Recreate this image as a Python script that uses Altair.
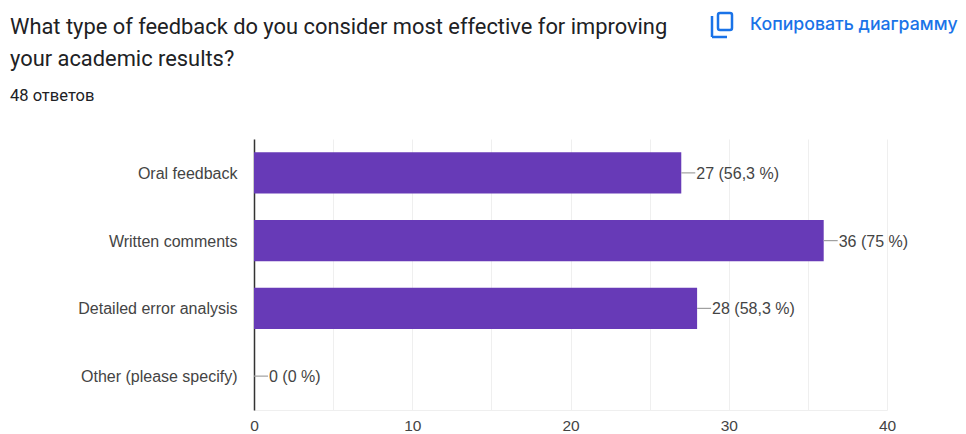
import altair as alt
import pandas as pd

categories = ["Oral feedback", "Written comments", "Detailed error analysis", "Other (please specify)"]
values = [27, 36, 28, 0]
labels = ["27 (56,3 %)", "36 (75 %)", "28 (58,3 %)", "0 (0 %)"]
ticks = [0, 5, 10, 15, 20, 25, 30, 35, 40]
title_lines = ["What type of feedback do you consider most effective for improving", "your academic results?"]
subtitle = "48 ответов"
button = "Копировать диаграмму"

df = pd.DataFrame({"cat": categories, "val": values, "lab": labels})
W, H = 633, 271
LEFT, TOP = 246, 131

xs = alt.Scale(domain=[0, 40], nice=False)
ys = alt.Scale(domain=categories, paddingInner=0.39, paddingOuter=0.195)

base = alt.Chart(df)
bars = base.mark_bar(color="#673ab7", opacity=1).encode(
    x=alt.X("val:Q", scale=xs, axis=alt.Axis(
        values=ticks, title=None, grid=True, gridColor="#efefef", gridWidth=1,
        domainColor="#efefef", ticks=False, labelFont="Liberation Sans", labelFontSize=15.5,
        labelColor="#444444", labelPadding=8, labelFlush=False,
        labelExpr="datum.value % 10 == 0 ? datum.label : ''")),
    y=alt.Y("cat:N", scale=ys, sort=categories, axis=alt.Axis(
        title=None, ticks=False, grid=False, domainColor="#333333", domainWidth=1.5,
        labelFont="Liberation Sans", labelFontSize=16, labelColor="#444444",
        labelPadding=17, labelLimit=240, labelOffset=1)),
)
leaders = base.mark_rule(color="#a0a0a0", strokeWidth=1.2, x2Offset=14).encode(
    x=alt.X("val:Q", scale=xs), x2="val:Q", y=alt.Y("cat:N", scale=ys, sort=categories))
texts = base.mark_text(align="left", dx=15, dy=1, font="Liberation Sans", fontSize=16, color="#444444").encode(
    x=alt.X("val:Q", scale=xs), y=alt.Y("cat:N", scale=ys, sort=categories), text="lab:N")


def note(text, px, py, size, color, font="Roboto", weight=400):
    return alt.Chart(pd.DataFrame({"t": [text]})).mark_text(
        align="left", baseline="middle", font=font, fontSize=size, color=color, fontWeight=weight
    ).encode(x=alt.value(px - 8 - LEFT), y=alt.value(py - 8 - TOP), text="t:N")


def line(x1, y1, x2, y2):
    return alt.Chart(pd.DataFrame({"a": [0]})).mark_rule(color="#1a73e8", strokeWidth=2.5).encode(
        x=alt.value(x1 - 8 - LEFT), x2=alt.value(x2 - 8 - LEFT),
        y=alt.value(y1 - 8 - TOP), y2=alt.value(y2 - 8 - TOP))


front = alt.Chart(pd.DataFrame({"a": [0]})).mark_rect(
    fill="white", stroke="#1a73e8", strokeWidth=2.5, cornerRadius=2).encode(
    x=alt.value(718 - 8 - LEFT), x2=alt.value(732 - 8 - LEFT),
    y=alt.value(13 - 8 - TOP), y2=alt.value(30 - 8 - TOP))

chart = alt.layer(
    bars, leaders, texts,
    note(title_lines[0], 10, 27, 21.87, "#202124"),
    note(title_lines[1], 10, 59, 21.87, "#202124"),
    note(subtitle, 10, 96, 16.5, "#202124"),
    note(button, 750, 25, 17.7, "#1a73e8", "Inter", 500),
    line(712, 16, 712, 37), line(712, 37, 727, 37), front,
).properties(
    width=W, height=H,
    autosize=alt.AutoSizeParams(type="none"),
    padding={"left": LEFT, "top": TOP, "right": 71, "bottom": 22},
).configure_view(stroke=None)

chart.save("out.html", embed_options={"renderer": "svg", "actions": False})
